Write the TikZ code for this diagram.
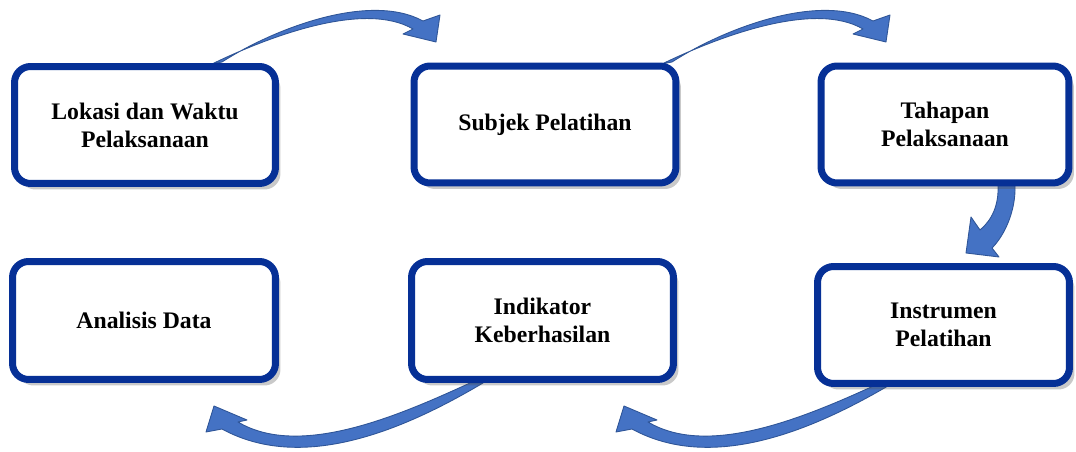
\documentclass[tikz,border=0pt]{standalone}
\usepackage{fontspec}
\setmainfont{Liberation Serif}
\usetikzlibrary{shadows,calc}

\definecolor{garisKotak}{RGB}{6,48,150}
\definecolor{isiPanah}{RGB}{68,114,196}
\definecolor{garisPanah}{RGB}{47,85,151}

\tikzset{
  kotak/.style={draw=garisKotak, line width=0.14cm, rounded corners=0.32cm, fill=white,
    minimum height=2.34cm, align=center, font=\bfseries\fontsize{13.5}{15.9}\selectfont,
    drop shadow={shadow xshift=0.1cm, shadow yshift=-0.12cm, opacity=0.3, fill=black!70}},
  panah/.style={fill=isiPanah, draw=garisPanah, line width=0.5pt, line join=round}
}

\begin{document}
\begin{tikzpicture}[x=0.02cm, y=-0.02cm]
    \useasboundingbox (0,0) rectangle (1076,452);

    \pgfmathsetmacro{\kolomA}{145}
    \pgfmathsetmacro{\kolomB}{545}
    \pgfmathsetmacro{\kolomC}{945}
    \pgfmathsetmacro{\barisAtas}{124.5}
    \pgfmathsetmacro{\barisBawah}{320.5}

    % Titik awal panah
    \coordinate (a1) at (217,63);
    \coordinate (a2) at (667,63);
    \coordinate (a3) at (1006,185);
    \coordinate (a4) at (476,383);
    \coordinate (a5) at (886,383);

    % Panah atas
    \foreach \a in {a1,a2}{
      \filldraw[panah, shift={(\a)}] (5,-1) .. controls (58,-35) and (153,-71) .. (206,-42)
        -- (223,-48) -- (219,-21) -- (186,-29) -- (196,-34)
        .. controls (148,-62) and (55,-28) .. (-5,1) -- cycle;
    }

    % Panah turun
    \filldraw[panah, shift={(a3)}] (-8,0) .. controls (-7,20) and (-14,35) .. (-26,45)
      -- (-35,32) -- (-40,68) -- (-7,72) -- (-14,63)
      .. controls (-1,50) and (10,25) .. (9,0) -- cycle;

    % Panah bawah
    \foreach \a in {a4,a5}{
      \filldraw[panah, shift={(\a)}] (-6,0) .. controls (-76,32) and (-176,76) .. (-238,39)
        -- (-229,37) -- (-262,23) -- (-270,49) -- (-254,46)
        .. controls (-170,92) and (-64,42) .. (7,0) -- cycle;
    }

    % Kotak
    \node[kotak, minimum width=5.22cm] (lok) at (\kolomA,125) {Lokasi dan Waktu\\Pelaksanaan};
    \node[kotak, minimum width=5.24cm] (subjek) at (\kolomB,\barisAtas) {Subjek Pelatihan};
    \node[kotak, minimum width=4.96cm] (tahap) at (\kolomC,\barisAtas) {Tahapan\\Pelaksanaan};
    \node[kotak, minimum width=5.26cm, minimum height=2.36cm] (analisis) at (144,\barisBawah) {Analisis Data};
    \node[kotak, minimum width=5.24cm, minimum height=2.36cm] (indik) at (542.5,\barisBawah) {Indikator\\Keberhasilan};
    \node[kotak, minimum width=5.04cm] (instrumen) at (943.5,\barisBawah+4.5) {Instrumen\\Pelatihan};
\end{tikzpicture}
\end{document}
